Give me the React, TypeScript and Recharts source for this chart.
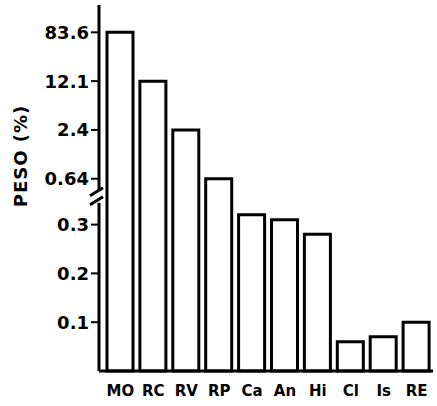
import React from "react";
import { Bar, BarChart, XAxis, YAxis } from "recharts";

const categories = ["MO", "RC", "RV", "RP", "Ca", "An", "Hi", "Cl", "Is", "RE"];
const pesoValues = [83.6, 12.1, 2.4, 0.64, 0.32, 0.31, 0.28, 0.06, 0.07, 0.1];
const lowerTicks = [0.1, 0.2, 0.3];
const upperTicks = [0.64, 2.4, 12.1, 83.6];

// broken axis: linear below the break, one equal step per upper tick above it
const BREAK_AT = 0.357;
const UPPER_START = 0.394;
const UPPER_STEP = 0.1;

const toAxis = (v: number) => {
  if (v <= BREAK_AT) return v;
  if (v <= upperTicks[0]) {
    const t = (v - BREAK_AT) / (upperTicks[0] - BREAK_AT);
    return BREAK_AT + t * (UPPER_START - BREAK_AT);
  }
  for (let i = 0; i < upperTicks.length - 1; i++) {
    const a = upperTicks[i];
    const b = upperTicks[i + 1];
    if (v <= b || i === upperTicks.length - 2) {
      const t = Math.log(v / a) / Math.log(b / a);
      return UPPER_START + (i + t) * UPPER_STEP;
    }
  }
  return v;
};

const data = categories.map((name, i) => ({ name, value: pesoValues[i] }));

const tickLabels = new Map<number, string>();
lowerTicks.forEach((t) => tickLabels.set(t, String(t)));
upperTicks.forEach((t) => tickLabels.set(toAxis(t), String(t)));
const yTicks = [...lowerTicks, BREAK_AT, ...upperTicks.map(toAxis)];

const FONT = "'DejaVu Sans', sans-serif";

const YTick = (props: any) => {
  const { x, y, payload } = props;
  if (Math.abs(payload.value - BREAK_AT) < 1e-6) {
    const ax = x + 10;
    return (
      <g>
        <rect x={ax - 12} y={y - 6} width={16} height={12} fill="#fff" />
        <line x1={ax - 9} y1={y - 1} x2={ax + 4} y2={y - 9} stroke="#000" strokeWidth={3} />
        <line x1={ax - 9} y1={y + 8} x2={ax + 4} y2={y} stroke="#000" strokeWidth={3} />
      </g>
    );
  }
  return (
    <text
      x={x}
      y={y}
      dy="0.36em"
      textAnchor="end"
      fontFamily={FONT}
      fontWeight="bold"
      fontSize={18}
      fill="#000"
    >
      {tickLabels.get(payload.value) ?? ""}
    </text>
  );
};

const YLabel = () => (
  <text
    transform="translate(21,156) rotate(-90)"
    textAnchor="middle"
    dy="0.36em"
    fontFamily={FONT}
    fontWeight="bold"
    fontSize={18}
    letterSpacing={1}
    fill="#000"
  >
    PESO (%)
  </text>
);

export default function App() {
  return (
    <div style={{ position: "absolute", left: 0, top: 0, background: "#fff" }}>
      <BarChart
        width={437}
        height={406}
        data={data}
        margin={{ top: 5, right: 4, bottom: 5, left: 0 }}
        barSize={26}
      >
        <XAxis
          dataKey="name"
          axisLine={{ stroke: "#000", strokeWidth: 3 }}
          tickLine={false}
          tickSize={0}
          tickMargin={14}
          height={30}
          padding={{ left: 5, right: 0 }}
          interval={0}
          tick={{ fill: "#000", fontFamily: FONT, fontWeight: "bold", fontSize: 15 }}
        />
        <YAxis
          type="number"
          domain={[0, 0.75]}
          ticks={yTicks}
          interval={0}
          width={99}
          axisLine={{ stroke: "#000", strokeWidth: 3 }}
          tickLine={{ stroke: "#000", strokeWidth: 2 }}
          tickSize={8}
          tickMargin={2}
          tick={<YTick />}
          label={<YLabel />}
        />
        <Bar
          dataKey={(d: any) => toAxis(d.value)}
          fill="#fff"
          stroke="#000"
          strokeWidth={3}
          isAnimationActive={false}
        />
      </BarChart>
    </div>
  );
}
